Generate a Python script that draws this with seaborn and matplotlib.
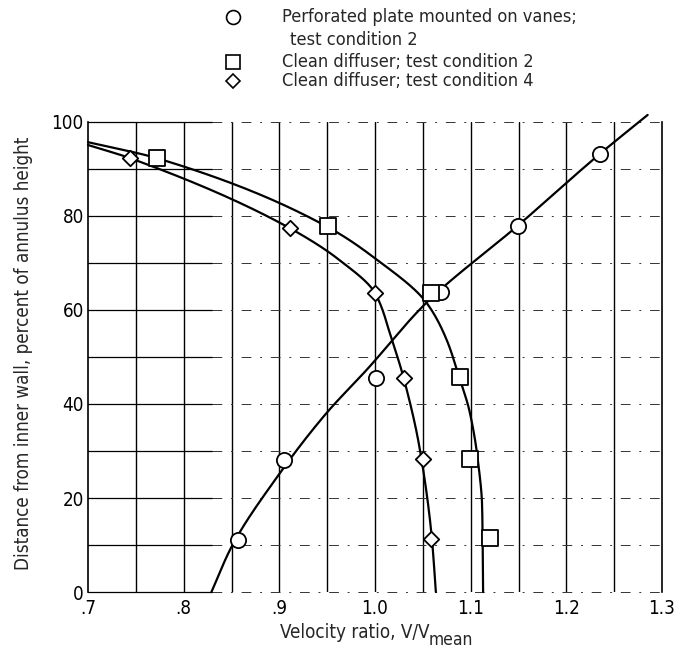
import numpy as np
import matplotlib
matplotlib.use("Agg")
import matplotlib.pyplot as plt
from matplotlib import font_manager
import seaborn as sns

# Measured points (velocity ratio, percent of annulus height)
perf_x = [0.857, 0.905, 1.001, 1.069, 1.149, 1.235]
perf_y = [11.1, 28.1, 45.5, 63.8, 77.9, 93.2]
clean2_x = [0.772, 0.951, 1.059, 1.089, 1.099, 1.120]
clean2_y = [92.3, 77.9, 63.6, 45.7, 28.3, 11.5]
clean4_x = [0.744, 0.911, 1.000, 1.030, 1.050, 1.059]
clean4_y = [92.3, 77.4, 63.6, 45.5, 28.3, 11.3]

# Faired curves through the data (knots along each curve)
perf_curve_x = [0.829, 0.850, 0.9006, 0.949, 0.991, 1.054, 1.149, 1.235, 1.285]
perf_curve_y = [0.0, 9.6, 25.3, 38.0, 47.2, 61.6, 77.9, 93.2, 101.5]
clean2_curve_x = [1.113, 1.112, 1.1075, 1.099, 1.088, 1.075, 1.054, 0.998, 0.951, 0.772, 0.700]
clean2_curve_y = [0.0, 18.1, 28.1, 38.3, 45.7, 53.6, 61.5, 71.3, 77.6, 92.3, 95.7]
clean4_curve_x = [1.0636, 1.0595, 1.047, 1.030, 1.0177, 1.000, 0.963, 0.911, 0.744, 0.700]
clean4_curve_y = [0.0, 11.3, 30.2, 45.5, 53.6, 63.6, 70.6, 77.4, 92.3, 95.1]

x_ticks = [0.7, 0.8, 0.9, 1.0, 1.1, 1.2, 1.3]
x_tick_labels = [".7", ".8", ".9", "1.0", "1.1", "1.2", "1.3"]
y_ticks = [0, 20, 40, 60, 80, 100]


def fair(xk, yk, n=400):
    """Monotone cubic (Fritsch-Carlson) curve x(y) through the knots."""
    order = np.argsort(yk)
    t = np.asarray(yk, float)[order]
    v = np.asarray(xk, float)[order]
    h = np.diff(t)
    delta = np.diff(v) / h
    m = np.zeros_like(v)
    m[0], m[-1] = delta[0], delta[-1]
    for i in range(1, len(v) - 1):
        if delta[i - 1] * delta[i] <= 0:
            m[i] = 0.0
        else:
            w1 = 2 * h[i] + h[i - 1]
            w2 = h[i] + 2 * h[i - 1]
            m[i] = (w1 + w2) / (w1 / delta[i - 1] + w2 / delta[i])
    tt = np.linspace(t[0], t[-1], n)
    idx = np.clip(np.searchsorted(t, tt) - 1, 0, len(t) - 2)
    hi = h[idx]
    s = (tt - t[idx]) / hi
    h00 = 2 * s**3 - 3 * s**2 + 1
    h10 = s**3 - 2 * s**2 + s
    h01 = -2 * s**3 + 3 * s**2
    h11 = s**3 - s**2
    xx = h00 * v[idx] + h10 * hi * m[idx] + h01 * v[idx + 1] + h11 * hi * m[idx + 1]
    return xx, tt


sns.set_theme(style="white")
installed = {f.name for f in font_manager.fontManager.ttflist}
if "Liberation Sans Narrow" in installed:
    base = "Liberation Sans Narrow"
    scale = 1.0
else:
    base = "DejaVu Sans"
    scale = 0.9
plt.rcParams["font.family"] = [base, "DejaVu Sans"]
plt.rcParams["font.stretch"] = "condensed"

fig = plt.figure(figsize=(6.78, 6.53), dpi=100)
ax = fig.add_axes([0.1298, 0.0934, 0.8466, 0.7198])
ax.set_xlim(0.7, 1.3)
ax.set_ylim(0, 100)

# grid: solid verticals, partly broken horizontals
for gx in np.arange(0.75, 1.26, 0.05):
    ax.axvline(gx, color="black", lw=1.0, zorder=1)
for gy in range(0, 101, 10):
    ax.plot([0.7, 0.83], [gy, gy], color="black", lw=0.9, zorder=1, clip_on=False)
    ax.plot([0.83, 1.3], [gy, gy], color="#333333", lw=0.7, zorder=1,
            linestyle=(0, (10, 9, 2, 9)), clip_on=False)

for cx, cy in [(perf_curve_x, perf_curve_y), (clean2_curve_x, clean2_curve_y),
               (clean4_curve_x, clean4_curve_y)]:
    xx, yy = fair(cx, cy)
    sns.lineplot(x=xx, y=yy, sort=False, estimator=None, color="black",
                 lw=1.6, ax=ax, zorder=2)
    ax.lines[-1].set_clip_on(False)

for xs, ys, mk, size in [(perf_x, perf_y, "o", 120), (clean2_x, clean2_y, "s", 120),
                         (clean4_x, clean4_y, "D", 62)]:
    sns.scatterplot(x=xs, y=ys, marker=mk, s=size, facecolor="white",
                    edgecolor="black", linewidth=1.3, legend=False, ax=ax,
                    zorder=3, clip_on=False)

for s in ["top", "bottom"]:
    ax.spines[s].set_visible(False)
for s in ["left", "right"]:
    ax.spines[s].set_color("black")
    ax.spines[s].set_linewidth(1.2)

fs = 15 * scale
ax.set_xticks(x_ticks)
ax.set_xticklabels(x_tick_labels)
ax.set_yticks(y_ticks)
ax.tick_params(length=0, labelsize=fs, colors="black", pad=3)
ax.tick_params(axis="x", pad=5)
ax.set_ylabel("Distance from inner wall, percent of annulus height", fontsize=fs)
ax.yaxis.set_label_coords(-0.095, 0.508)

# x-axis title with a full-size subscript
fig.text(0.634, 0.023, "Velocity ratio, V/V", fontsize=fs, ha="right", va="baseline")
fig.text(0.632, 0.0125, "mean", fontsize=fs * 0.93, ha="left", va="baseline")

# key above the plot
for mk, yk, ms in [("o", 0.974, 10), ("s", 0.905, 10), ("D", 0.876, 7.5)]:
    fig.add_artist(plt.Line2D([0.344], [yk], marker=mk, markersize=ms,
                              markerfacecolor="white", markeredgecolor="black",
                              markeredgewidth=1.2, linestyle="none",
                              transform=fig.transFigure))
kfs = 14.5 * scale
fig.text(0.416, 0.974, "Perforated plate mounted on vanes;", fontsize=kfs, va="center")
fig.text(0.428, 0.939, "test condition 2", fontsize=kfs, va="center")
fig.text(0.416, 0.905, "Clean diffuser; test condition 2", fontsize=kfs, va="center")
fig.text(0.416, 0.876, "Clean diffuser; test condition 4", fontsize=kfs, va="center")

fig.savefig("out.png", dpi=100)
